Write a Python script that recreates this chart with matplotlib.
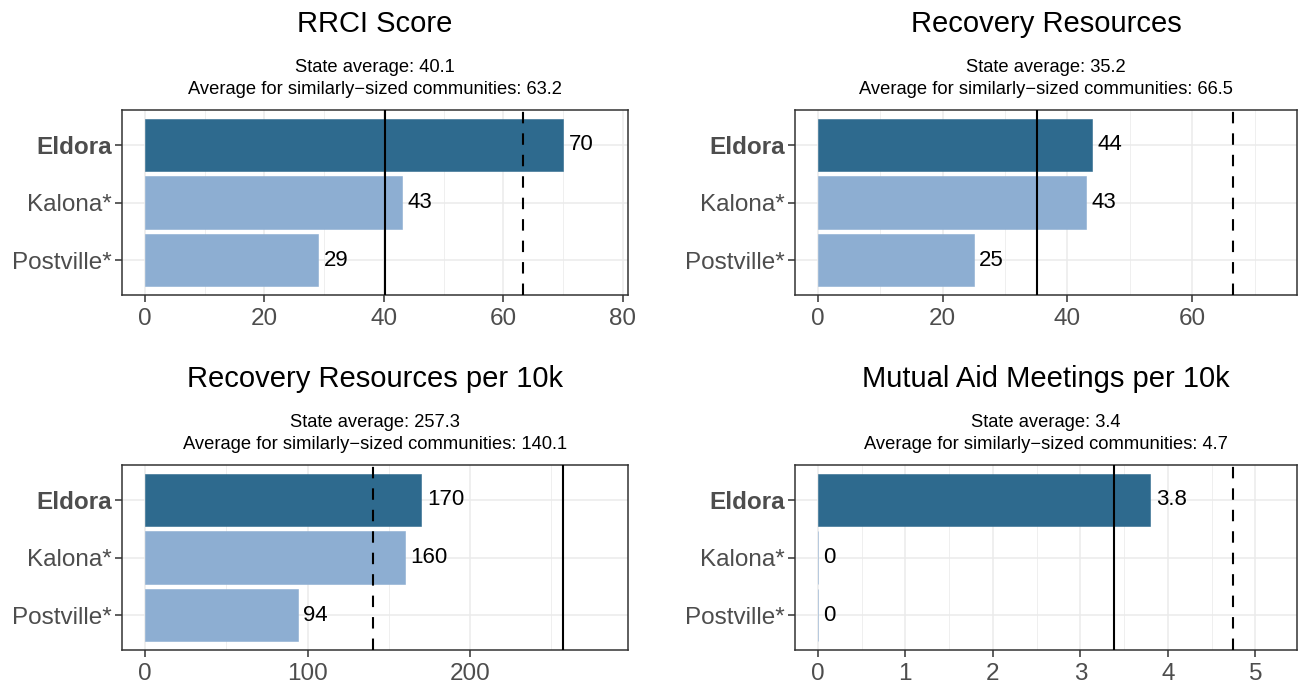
import matplotlib
matplotlib.use("Agg")
import matplotlib.pyplot as plt
from matplotlib.ticker import MultipleLocator

plt.rcParams['font.family'] = ['Liberation Sans', 'DejaVu Sans']

towns = ["Eldora", "Kalona*", "Postville*"]
titles = ["RRCI Score", "Recovery Resources",
          "Recovery Resources per 10k", "Mutual Aid Meetings per 10k"]
rrci = [70, 43, 29]
resources = [44, 43, 25]
resources_10k = [170, 160, 94]
meetings_10k = [3.8, 0, 0]
state_avg = [40.1, 35.2, 257.3, 3.38]
similar_avg = [63.2, 66.5, 140.1, 4.74]
value_labels = [["70", "43", "29"], ["44", "43", "25"],
                ["170", "160", "94"], ["3.8", "0", "0"]]
major_step = [20, 20, 100, 1]

series = [rrci, resources, resources_10k, meetings_10k]

dark = "#2E6A8E"
light = "#8DAED2"
colors = [dark, light, light]

fig = plt.figure(figsize=(12.99, 6.84), dpi=100)
W, H = 1299, 684
boxes = [(122, 110, 628, 295), (795, 110, 1297, 295),
         (122, 465, 628, 650), (795, 465, 1297, 650)]

for i, vals in enumerate(series):
    x0, y0, x1, y1 = boxes[i]
    ax = fig.add_axes([x0 / W, 1 - y1 / H, (x1 - x0) / W, (y1 - y0) / H])
    ypos = [3, 2, 1]
    top = max(max(vals), state_avg[i], similar_avg[i]) * 1.1
    ax.set_xlim(-0.05 * top, 1.05 * top)
    ax.set_ylim(0.4, 3.6)

    ax.xaxis.set_major_locator(MultipleLocator(major_step[i]))
    ax.xaxis.set_minor_locator(MultipleLocator(major_step[i] / 2))
    ax.grid(True, which='major', color='#EBEBEB', linewidth=1.1, zorder=0)
    ax.grid(True, which='minor', axis='x', color='#EBEBEB', linewidth=0.55, zorder=0)
    ax.set_axisbelow(True)

    ax.barh(ypos, vals, height=0.9, color=colors, edgecolor=colors,
            linewidth=0.4, zorder=2)
    ax.axvline(state_avg[i], color='black', linewidth=1.5, zorder=3)
    ax.axvline(similar_avg[i], color='black', linewidth=1.5,
               linestyle=(0, (5.5, 4.8)), zorder=3)

    for y, v, lab in zip(ypos, vals, value_labels[i]):
        ax.annotate(lab, xy=(v, y), xytext=(4, 0), textcoords='offset points',
                    ha='left', va='center', fontsize=16, color='black', zorder=4)

    ax.set_yticks(ypos)
    ax.set_yticklabels(towns)
    ax.get_yticklabels()[0].set_fontweight('bold')
    ax.tick_params(axis='both', which='major', labelsize=17.5, labelcolor='#4D4D4D',
                   color='#333333', length=5, width=1.1)
    ax.tick_params(axis='y', which='major', pad=2.2)
    ax.tick_params(axis='x', which='major', pad=4.5)
    ax.tick_params(axis='x', which='minor', length=0)
    for s in ax.spines.values():
        s.set_color('#333333')
        s.set_linewidth(1.1)

    ax.annotate(titles[i], xy=(0.5, 1), xycoords='axes fraction',
                xytext=(0, 62), textcoords='offset points',
                ha='center', va='center', fontsize=21, color='black')
    ax.annotate("State average: %.1f" % state_avg[i], xy=(0.5, 1),
                xycoords='axes fraction', xytext=(0, 30.5), textcoords='offset points',
                ha='center', va='center', fontsize=13.2, color='black')
    ax.annotate("Average for similarly\u2212sized communities: %.1f" % similar_avg[i],
                xy=(0.5, 1), xycoords='axes fraction', xytext=(0, 14.5),
                textcoords='offset points', ha='center', va='center',
                fontsize=13.2, color='black')

fig.savefig("out.png", dpi=100)
